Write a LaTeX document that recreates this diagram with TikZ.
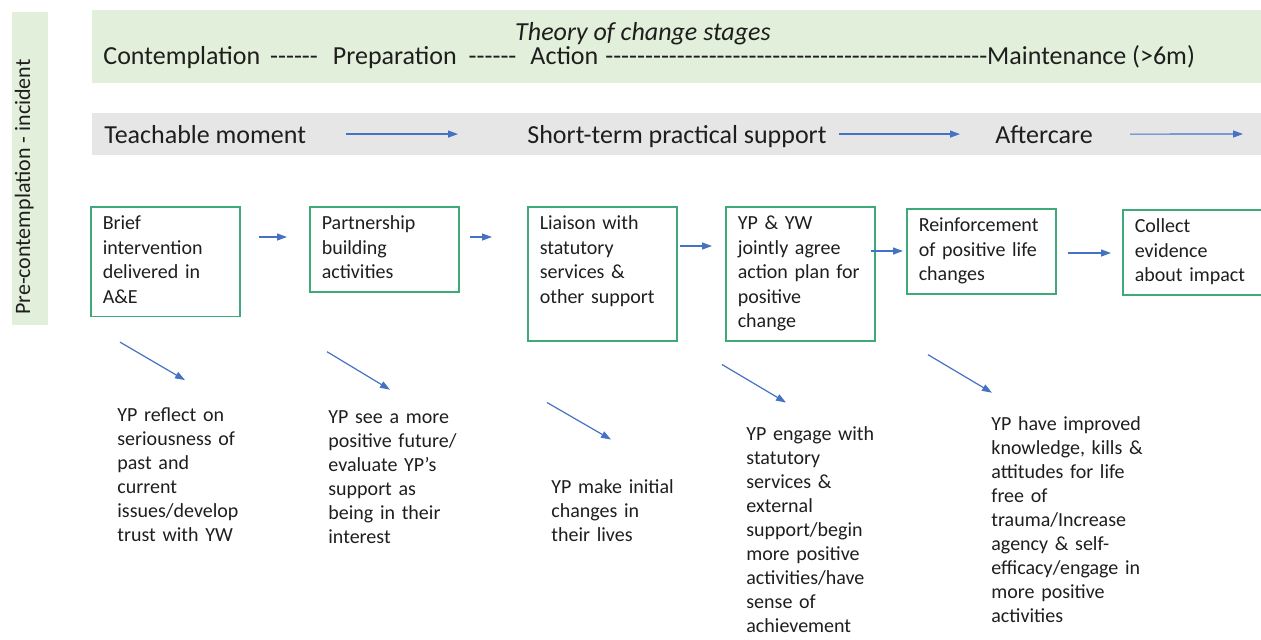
\documentclass[tikz,border=0pt]{standalone}
\usepackage{fontspec}
\setmainfont{Carlito}[Ligatures=TeXOff]
\usetikzlibrary{arrows.meta}

\definecolor{stagegreen}{HTML}{E2EFDA}
\definecolor{bandgrey}{HTML}{E7E6E6}
\definecolor{boxgreen}{HTML}{3FAA79}
\definecolor{flowblue}{HTML}{4472C4}
\definecolor{inkgrey}{HTML}{1E1E1E}

\tikzset{
  box/.style={draw=boxgreen, line width=0.75pt, anchor=north west, align=left,
    text width=62.5pt, inner xsep=6pt, inner ysep=3pt, text=inkgrey,
    font=\fontsize{10}{12.2}\selectfont,
    execute at begin node=\strut, execute at end node=\strut},
  outcome/.style={anchor=base west, align=left, text width=85pt, inner sep=0pt,
    text=inkgrey, font=\fontsize{10}{12}\selectfont},
  band/.style={anchor=base west, inner sep=0pt, text=inkgrey,
    font=\fontsize{13}{15}\selectfont},
  flow/.style={draw=flowblue, line width=0.6pt, -{Triangle[length=5pt,width=3.5pt]}},
}

\begin{document}
\begin{tikzpicture}[x=0.5pt, y=-0.5pt]
    \useasboundingbox (0,0) rectangle (1261,639);

    % Coloured bands
    \fill[stagegreen] (12,12) rectangle (48,325);
    \fill[stagegreen] (92,10) rectangle (1265,83);
    \fill[bandgrey] (92,113) rectangle (1265,155);

    % Band texts
    \node[rotate=90, anchor=base, inner sep=0pt, text=inkgrey, font=\fontsize{11}{13}\selectfont] (incident) at (30,187) {Pre-contemplation - incident};
    \node[band, anchor=base, font=\fontsize{13}{15}\selectfont\itshape] (title) at (643,40) {Theory of change stages};
    \node[band] (stages) at (103,64) {Contemplation\hspace{5pt}------\hspace{7.5pt}Preparation\hspace{6pt}------\hspace{7pt}Action\hspace{3.5pt}------------------------------------------------Maintenance (>6m)};
    \node[band] (teach) at (104,143) {Teachable moment};
    \node[band] (support) at (527,143) {Short-term practical support};
    \node[band] (aftercare) at (995,143) {Aftercare};
    \coordinate (bandend) at (1243,134);

    \draw[flow, shorten <=20pt, shorten >=34.5pt] (teach.east) -- (teach.east -| support.west);
    \draw[flow, shorten <=6pt, shorten >=17.5pt] (teach.east -| support.east) -- (teach.east -| aftercare.west);
    \draw[flow, shorten <=18.5pt] (aftercare.east) -- (bandend);

    % Activity boxes
    \node[box] (brief) at (90,206) {Brief\\ intervention\\ delivered in\\ A\&E};
    \node[box] (partner) at (309,206) {Partnership\\ building\\ activities};
    \node[box] (liaison) at (527,206) {Liaison with\\ statutory\\ services \&\\ other support\\};
    \node[box] (agree) at (725,206) {YP \& YW\\ jointly agree\\ action plan for\\ positive\\ change};
    \node[box] (reinforce) at (906,208) {Reinforcement\\ of positive life\\ changes};
    \node[box] (evidence) at (1122,209) {Collect\\ evidence\\ about impact};

    \draw[flow, shorten <=9pt, shorten >=11pt] ([yshift=-15.5pt]brief.north east) -- ([yshift=-15.5pt]partner.north west);
    \draw[flow, shorten <=5pt, shorten >=17.5pt] ([yshift=-15.5pt]partner.north east) -- ([yshift=-15.5pt]liaison.north west);
    \draw[flow, shorten <=1pt, shorten >=6.5pt] ([yshift=-20pt]liaison.north east) -- ([yshift=-20pt]agree.north west);
    \draw[flow, shorten <=-2.5pt, shorten >=1.5pt] ([yshift=-22.5pt]agree.north east) -- ([yshift=-22.5pt]agree.north east -| reinforce.west);
    \draw[flow, shorten <=5.5pt, shorten >=5.5pt] ([yshift=-22.5pt]reinforce.north east) -- ([yshift=-22.5pt]reinforce.north east -| evidence.west);

    % Outcomes
    \node[outcome] (reflect) at (117,421) {YP reflect on\\ seriousness of\\ past and\\ current\\ issues/develop\\ trust with YW};
    \node[outcome] (future) at (328,423) {YP see a more\\ positive future/\\ evaluate YP’s\\ support as\\ being in their\\ interest};
    \node[outcome] (initial) at (551,493) {YP make initial\\ changes in\\ their lives};
    \node[outcome] (engage) at (746,440) {YP engage with\\ statutory\\ services \&\\ external\\ support/begin\\ more positive\\ activities/have\\ sense of\\ achievement};
    \node[outcome] (improved) at (991,430) {YP have improved\\ knowledge, kills \&\\ attitudes for life\\ free of\\ trauma/Increase\\ agency \& self-\\ efficacy/engage in\\ more positive\\ activities};

    \draw[flow] ([shift={(30,25)}]brief.south west) -- ++(65,38);
    \draw[flow] ([shift={(18,59)}]partner.south west) -- ++(63,38);
    \draw[flow] ([shift={(20,61)}]liaison.south west) -- ++(64,37);
    \draw[flow] ([shift={(-3,23)}]agree.south west) -- ++(64,38);
    \draw[flow] ([shift={(22,60)}]reinforce.south west) -- ++(64,38);
\end{tikzpicture}
\end{document}
